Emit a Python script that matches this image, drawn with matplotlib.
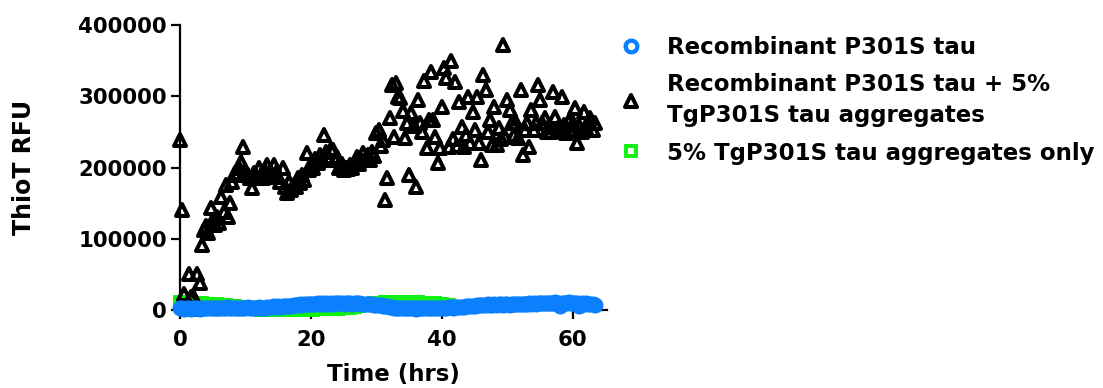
import numpy as np
import matplotlib
matplotlib.use("Agg")
import matplotlib.pyplot as plt
from matplotlib.markers import MarkerStyle
from matplotlib.lines import Line2D

# ThioT fluorescence readings, one every 20 minutes
step_hrs = 1 / 3

rec_tau = [
    3000, 2500, 2000, 3500, 2800, 2000, 3000, 2500, 3200, 2000,
    2600, 3000, 2200, 2800, 3300, 2400,
    3000, 2500, 3500, 2800, 2200, 3000, 3600, 2600, 3200, 2400,
    3000, 3400, 2800, 2300, 3100, 3600, 2700, 3300, 2500, 3000,
    3800, 3200, 2800, 3500,
    4000, 3600, 4500, 5000, 4200, 5200, 4800, 5600, 5000, 6000, 5400, 6200,
    6800, 7500, 7000, 8200, 7600, 8500, 7800, 8800, 8200, 9000,
    8400, 9500, 8800, 9200, 8600, 9800, 9000, 9400, 8800, 10000,
    9200, 9600, 10500, 9000, 9800, 10200, 9400, 8800, 9600, 10000,
    9200, 8600, 9000,
    8500, 9000, 8000, 8400, 7600, 7000, 7400, 6500, 6000, 5400, 5000, 4600,
    4000, 3500, 3000, 3400, 2800, 2500, 3000, 2200, 2600, 3000,
    2400, 2000, 2800, 2300, 2600, 3000, 2200, 2500, 2800, 2400,
    3000, 2600, 3200, 2800, 3400, 3000, 3600,
    3800, 3400, 4000, 3600, 4400, 4800, 4200, 5000, 5400, 5000, 5800, 6200,
    6500, 7000, 6600, 7400, 7000, 7800, 7200, 7600, 8000, 7400,
    7800, 8200, 7600, 8400, 8000, 7600, 8200, 8600, 8000, 8400,
    8800, 8200, 8600, 9000,
    9200, 8800, 9600, 9000, 10000, 9400, 9800, 10200, 9600, 10400,
    9800, 10000, 10600, 9400, 5000, 9800, 10400, 10000, 10800, 10200,
    9600, 10400, 10000, 5000, 9200, 8800, 9400, 8600, 8000, 8400, 7600,
]

rec_tau_seeded = [
    238000, 140000, 22000, 2000, 50000, 18000, 20000, 1000, 50000, 38000,
    91000, 112000, 118000, 108000, 143000, 126000, 120000, 130000, 122000, 158000,
    137000, 175000, 130000, 150000, 180000, 192000, 189000, 200000, 208000, 229000,
    195000, 190000, 185000, 171000, 192000, 185000, 200000, 190000, 185000, 195000,
    203000, 186000, 190000, 203000, 192000, 186000, 180000, 200000, 172000, 164000,
    180000, 168000, 176000, 172000, 185000, 178000, 190000, 183000, 220000, 196000,
    205000, 200000, 212000, 206000, 218000, 210000, 245000, 222000, 215000, 226000,
    224000, 210000, 215000, 200000, 205000, 196000, 200000, 198000, 203000, 200000,
    208000, 215000, 205000, 210000, 220000, 212000, 218000, 210000, 222000, 216000,
    248000, 252000, 230000, 238000, 154000, 185000, 270000, 316000, 243000, 318000,
    299000, 297000, 280000, 241000, 262000, 189000, 276000, 258000, 172000, 295000,
    262000, 250000, 322000, 227000, 266000, 334000, 266000, 243000, 206000, 227000,
    285000, 340000, 325000, 229000, 350000, 240000, 320000, 230000, 292000, 257000,
    229000, 245000, 299000, 235000, 278000, 252000, 299000, 234000, 210000, 330000,
    309000, 250000, 266000, 231000, 285000, 231000, 255000, 240000, 372000, 243000,
    295000, 281000, 262000, 245000, 262000, 241000, 309000, 217000, 252000, 262000,
    229000, 281000, 252000, 262000, 316000, 295000, 262000, 270000, 250000, 258000,
    250000, 306000, 271000, 255000, 252000, 299000, 260000, 248000, 265000, 252000,
    262000, 283000, 234000, 258000, 250000, 278000, 255000, 262000, 269000, 252000,
    262000,
]

agg_only = [
    11000, 10000, 10500, 9500, 10000, 11000, 9800, 10200, 9500, 10000,
    9200, 9000, 8500, 8800, 8000, 8200, 7500, 7800, 7000, 7200,
    6500, 6800, 6000, 5800, 5500,
    5000, 4500, 4000, 3600, 3200, 2600, 2400, 2000, 1600, 1200,
    1000, 800, 600, 700, 500,
    800, 600, 400, 600, 300, 500, 200, 400, 300, 500,
    400, 200, 500, 300, 600, 400, 300, 600, 400, 700,
    800, 600, 900, 1000, 800, 1200, 1000, 1400, 1200, 1600,
    1500, 1800, 2000, 1900, 2300, 2400, 2800, 3000, 3400,
    4000, 4800, 5500, 6200, 6800, 7200, 7600, 8000, 8400, 8800, 9200, 9600,
    10000, 10400, 10200, 10800, 10600, 11200, 10800, 11000, 11400, 11000,
    11200, 10800, 11000, 10600, 11000, 10400, 10800, 10200, 10600, 10000,
    10400, 9800, 10200, 9600, 9400, 9000, 9200, 8600, 8200, 7800,
    7400, 7000, 6500,
]

series_labels = [
    "Recombinant P301S tau",
    "Recombinant P301S tau + 5%\nTgP301S tau aggregates",
    "5% TgP301S tau aggregates only",
]
x_ticks = [0, 20, 40, 60]
y_ticks = [0, 100000, 200000, 300000, 400000]

BLUE = "#0A80FF"
GREEN = "#12F012"
BLACK = "#000000"

plt.rcParams["font.family"] = ["DejaVu Sans"]
plt.rcParams["font.weight"] = "bold"

fig = plt.figure(figsize=(11.03, 3.88), dpi=100)
ax = fig.add_axes([0.1632, 0.201, 0.3871, 0.7345])


def hours(values):
    return np.arange(len(values)) * step_hrs


circle = MarkerStyle("o")
triangle = MarkerStyle("^", joinstyle="round")
square = MarkerStyle("s", joinstyle="miter")

CIRC = dict(marker=circle, ms=8.4, mew=3.1, mec=BLUE, mfc="none")
TRI = dict(marker=triangle, ms=8.2, mew=2.9, mec=BLACK, mfc="none")
SQR = dict(marker=square, ms=7.6, mew=2.8, mec=GREEN, mfc="none")

ax.plot(hours(agg_only), agg_only, ls="none", clip_on=False, zorder=3, **SQR)
ax.plot(hours(rec_tau_seeded), rec_tau_seeded, ls="none", clip_on=False,
        zorder=4, **TRI)
ax.plot(hours(rec_tau), rec_tau, ls="none", clip_on=False, zorder=5, **CIRC)

ax.set_xlim(0, 65.2)
ax.set_ylim(0, 400000)
ax.set_xticks(x_ticks)
ax.set_yticks(y_ticks)
ax.set_xticklabels([str(v) for v in x_ticks])
ax.set_yticklabels([str(v) for v in y_ticks])

for side in ("top", "right"):
    ax.spines[side].set_visible(False)
for side in ("left", "bottom"):
    ax.spines[side].set_linewidth(1.6)
    ax.spines[side].set_zorder(2)

ax.tick_params(axis="both", direction="out", length=6.5, width=1.6,
               labelsize=15.3, colors="black")
ax.tick_params(axis="y", pad=3)
ax.tick_params(axis="x", pad=8)
for lbl in ax.get_xticklabels() + ax.get_yticklabels():
    lbl.set_fontweight("bold")

ax.set_xlabel("Time (hrs)", fontsize=16.5, fontweight="bold")
ax.set_ylabel("ThioT RFU", fontsize=17, fontweight="bold")
ax.xaxis.set_label_coords(0.5, -0.186)
ax.yaxis.set_label_coords(-0.338, 0.5)

handles = [
    Line2D([], [], ls="none", **CIRC),
    Line2D([], [], ls="none", **TRI),
    Line2D([], [], ls="none", **SQR),
]
leg = fig.legend(handles, series_labels, loc="upper left",
                 bbox_to_anchor=(620 / 1103, 1 - 36 / 388),
                 frameon=False, borderpad=0, borderaxespad=0,
                 handlelength=1.0, handletextpad=1.05, labelspacing=0.62,
                 prop={"size": 16.5, "weight": "bold"})
for txt in leg.get_texts():
    txt.set_linespacing(1.45)

fig.savefig("out.png", dpi=100)
